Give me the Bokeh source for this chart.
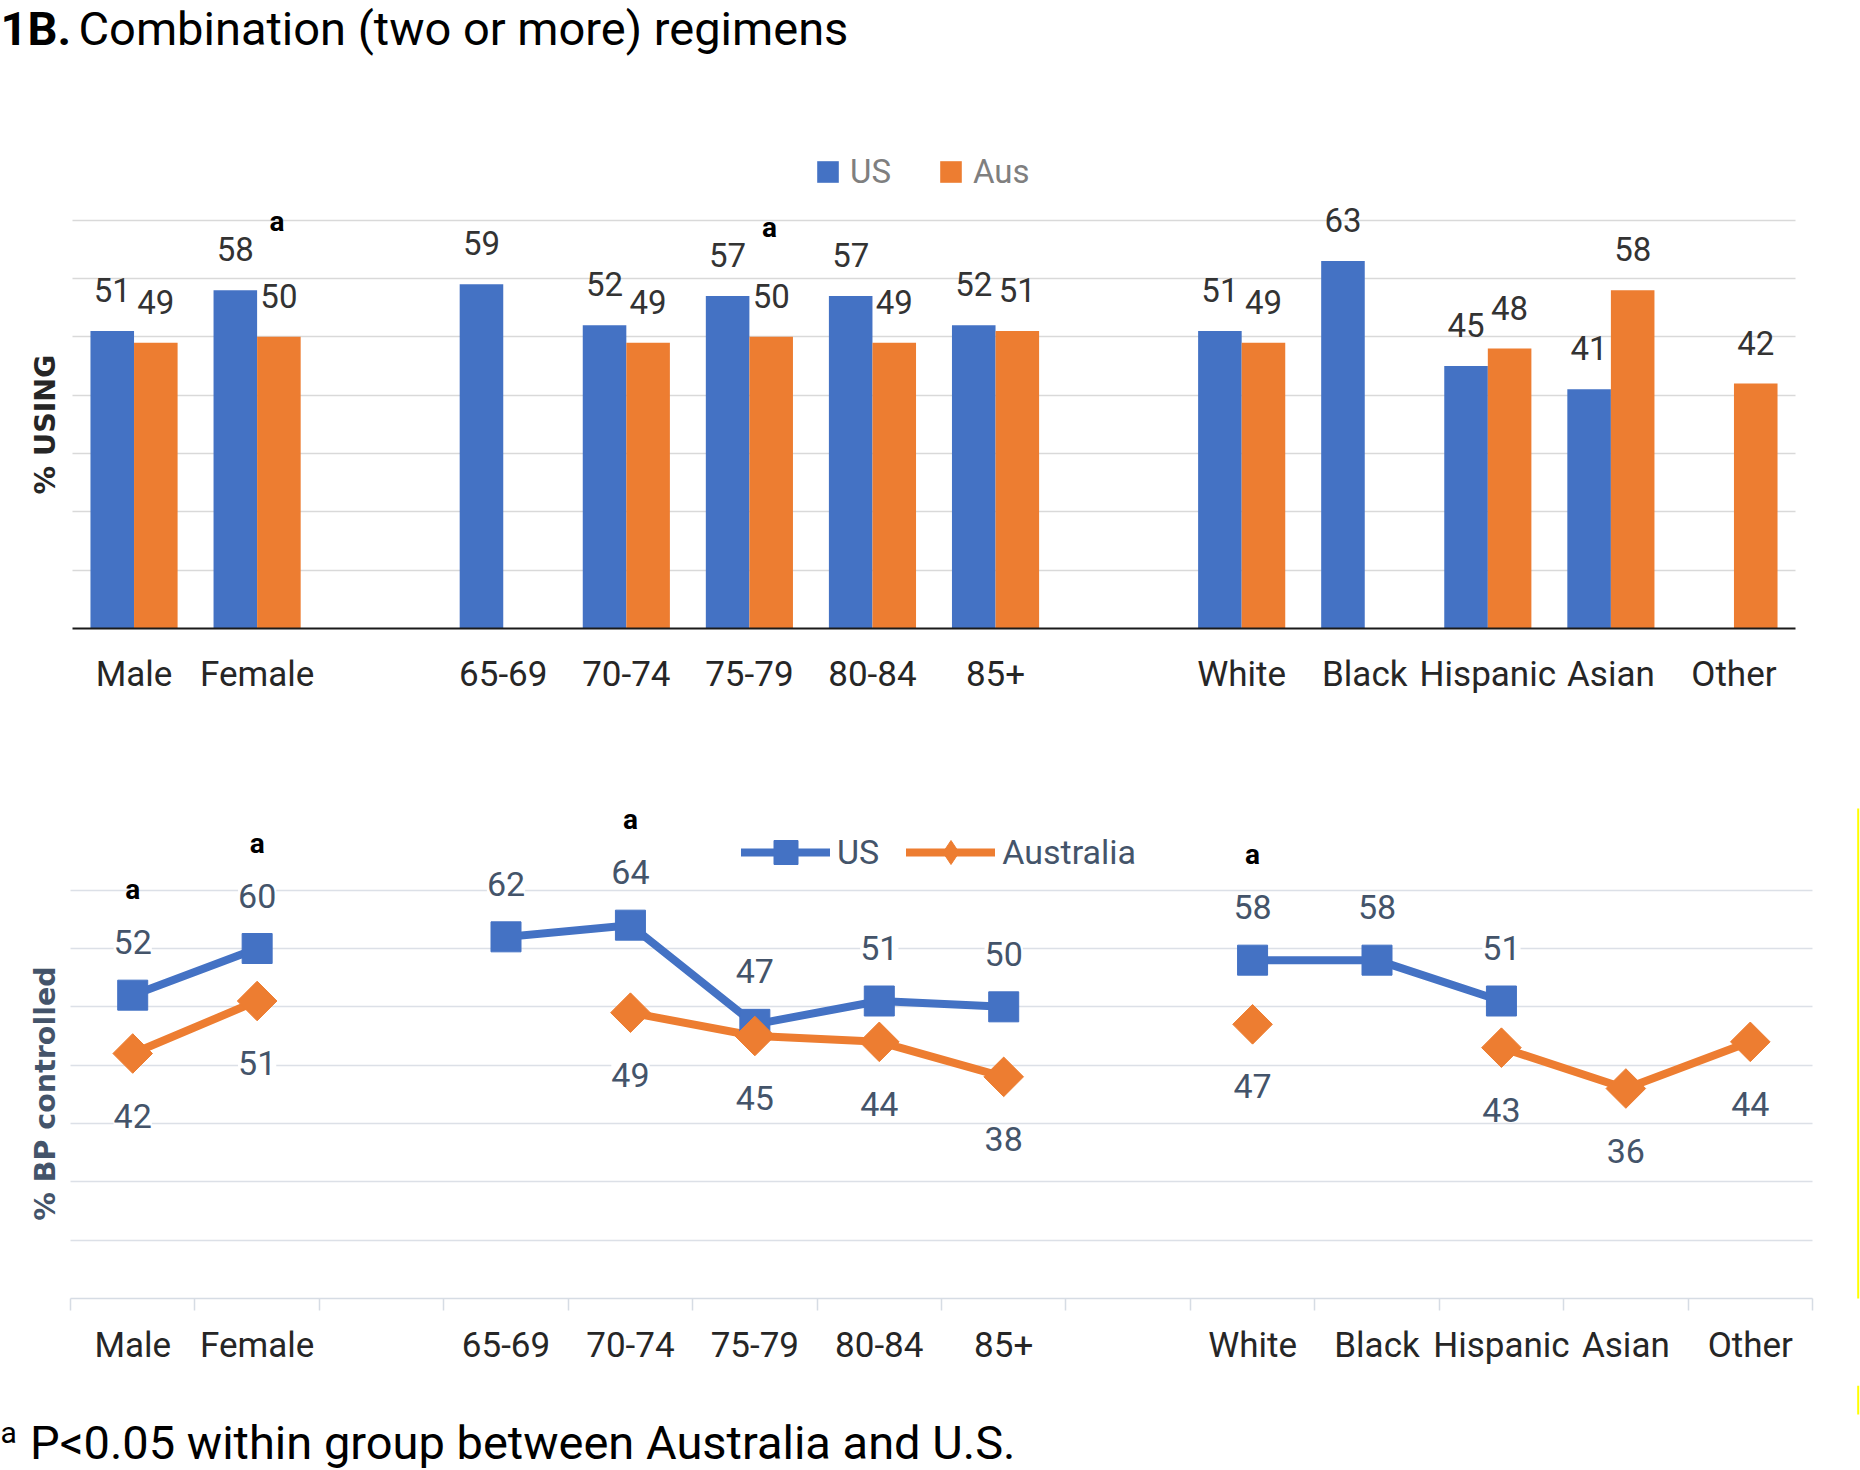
import math
from bokeh.plotting import figure
from bokeh.models import (ColumnDataSource, LabelSet, Legend, LegendItem,
                          FixedTicker, Range1d)
from bokeh.layouts import column
from bokeh.core.properties import value
from bokeh.embed import file_html
from bokeh.resources import INLINE

# ---------------- data ----------------
categories = ["Male", "Female", "", "65-69", "70-74", "75-79", "80-84", "85+", "",
              "White", "Black", "Hispanic", "Asian", "Other"]
using_us = [51, 58, None, 59, 52, 57, 57, 52, None, 51, 63, 45, 41, None]
using_aus = [49, 50, None, None, 49, 50, 49, 51, None, 49, None, 48, 58, 42]
control_us = [52, 60, None, 62, 64, 47, 51, 50, None, 58, 58, 51, None, None]
control_aus = [42, 51, None, None, 49, 45, 44, 38, None, 47, None, 43, 36, 44]
using_sig = ["Female", "75-79"]
control_sig = ["Male", "Female", "70-74", "White"]
grid_ticks = [10, 20, 30, 40, 50, 60, 70]

title_bold = "1B."
title_text = "Combination (two or more) regimens"
footnote = "P<0.05 within group between Australia and U.S."

# ---------------- style ----------------
BLUE = "#4472C4"
ORANGE = "#ED7D31"
FONT = "Roboto"
SLATE = "#44546A"
TOTAL_W = 1860
NAN = float("nan")

n = len(categories)
xc = [i + 0.5 for i in range(n)]
tick_pos = [xc[i] for i, c in enumerate(categories) if c]
tick_lab = {xc[i]: c for i, c in enumerate(categories) if c}


def pts(vals, dx=0.0):
    xs, ys, ts = [], [], []
    for i, v in enumerate(vals):
        if v is not None:
            xs.append(xc[i] + dx)
            ys.append(v)
            ts.append(str(v))
    return ColumnDataSource(dict(x=xs, y=ys, text=ts))


def blank(w, h):
    """A figure whose frame is the whole canvas, in pixel-like units (y downward)."""
    f = figure(width=w, height=h, x_range=Range1d(0, w), y_range=Range1d(h, 0),
               x_axis_location=None, y_axis_location=None, output_backend="svg",
               toolbar_location=None, min_border=0)
    f.outline_line_color = None
    f.grid.visible = False
    return f


def put_text(fig, x, y, text, **kw):
    src = ColumnDataSource(dict(x=[x], y=[y], t=[text]))
    fig.add_layout(LabelSet(x="x", y="y", text="t", source=src, **kw))


def setup_grid(p, color):
    g = p.ygrid[0]
    if "cross_bounds" in g.properties():
        g.ticker = FixedTicker(ticks=grid_ticks)
        g.grid_line_color = color
        g.grid_line_width = 1.5
        g.cross_bounds = (0, n)
    else:
        g.grid_line_color = None
        p.segment(x0=[0] * len(grid_ticks), x1=[n] * len(grid_ticks),
                  y0=grid_ticks, y1=grid_ticks, line_color=color, line_width=1.5)
    p.xgrid.grid_line_color = None


def style_xaxis(p, color, standoff):
    ax = p.xaxis[0]
    ax.bounds = (0, n)
    ax.ticker = FixedTicker(ticks=tick_pos, minor_ticks=list(range(n + 1)))
    ax.major_label_overrides = tick_lab
    ax.major_tick_line_color = None
    ax.major_tick_out = 0
    ax.major_tick_in = 0
    ax.major_label_standoff = standoff
    ax.major_label_text_font = FONT
    ax.major_label_text_font_size = "35px"
    ax.major_label_text_color = color


# =============== title ===============
title_fig = blank(TOTAL_W, 112)
put_text(title_fig, 0, 44, title_bold, text_font=value(FONT), text_font_size="47px",
         text_font_style="bold", text_color="black", text_baseline="alphabetic")
put_text(title_fig, 78, 44, title_text, text_font=value(FONT), text_font_size="47px",
         text_color="black", text_baseline="alphabetic")

# =============== top chart: % using ===============
# frames of all stacked figures span the full page width (column aligns them)
TOP_SLOT = 1723 / n            # pixels per category slot
TOP_PX = 490 / 84              # pixels per percentage point
top = figure(width=TOTAL_W, height=628,
             x_range=Range1d(-72 / TOP_SLOT, n + 65 / TOP_SLOT), y_range=Range1d(0, 84),
             y_axis_location=None, output_backend="svg", toolbar_location=None,
             min_border_left=0, min_border_right=0, min_border_top=26,
             min_border_bottom=112)
top.outline_line_color = None
setup_grid(top, "#D9D9D9")
style_xaxis(top, "#262626", 21)
top.xaxis.minor_tick_line_color = None
top.xaxis.axis_line_color = "#1a1a1a"
top.xaxis.axis_line_width = 2

DODGE = 0.177
BW = 0.354
src_us = pts(using_us, -DODGE)
src_au = pts(using_aus, DODGE)
r_us = top.vbar(x="x", top="y", width=BW, source=src_us, fill_color=BLUE, line_color=None)
r_au = top.vbar(x="x", top="y", width=BW, source=src_au, fill_color=ORANGE, line_color=None)

for s in (src_us, src_au):
    top.add_layout(LabelSet(x="x", y="y", text="text", source=s, text_align="center",
                            text_baseline="alphabetic", y_offset=29,
                            text_font=value(FONT), text_font_size="33px",
                            text_color="#333333"))

sig_x, sig_y = [], []
for c in using_sig:
    i = categories.index(c)
    sig_x.append(xc[i])
    sig_y.append(max(v for v in (using_us[i], using_aus[i]) if v is not None))
top.add_layout(LabelSet(x="x", y="y", text=value("a"),
                        source=ColumnDataSource(dict(x=sig_x, y=sig_y)),
                        text_align="center", text_baseline="alphabetic",
                        x_offset=20, y_offset=59, text_font=value(FONT),
                        text_font_size="28px", text_font_style="bold", text_color="black"))

leg1 = Legend(items=[LegendItem(label="US", renderers=[r_us]),
                     LegendItem(label="Aus", renderers=[r_au])],
              orientation="horizontal", location=(814, 437),
              glyph_width=27, glyph_height=27, label_standoff=9, spacing=46,
              padding=0, margin=0, border_line_color=None, background_fill_alpha=0,
              label_text_font=FONT, label_text_font_size="33px",
              label_text_color="#7F7F7F")
top.add_layout(leg1)

# y-axis title, placed in the frame's left margin zone
put_text(top, -27.5 / TOP_SLOT, 204 / TOP_PX, "% USING", angle=math.pi / 2,
         text_font=value("DejaVu Sans"), text_font_size="28.5px", text_font_style="bold",
         text_color="#262626", text_align="center", text_baseline="middle")

# =============== bottom chart: % BP controlled ===============
BOT_SLOT = 1742 / n
BOT_PX = 490 / 84
bot = figure(width=TOTAL_W, height=645,
             x_range=Range1d(-70 / BOT_SLOT, n + 48 / BOT_SLOT), y_range=Range1d(0, 84),
             y_axis_location=None, output_backend="svg", toolbar_location=None,
             min_border_left=0, min_border_right=0, min_border_top=68,
             min_border_bottom=87)
bot.outline_line_color = None
setup_grid(bot, "#DCE0E7")
style_xaxis(bot, "#262626", 14)
bot.xaxis.axis_line_color = "#D6DCE4"
bot.xaxis.axis_line_width = 1.5
bot.xaxis.minor_tick_line_color = "#D6DCE4"
bot.xaxis.minor_tick_line_width = 1.5
bot.xaxis.minor_tick_out = 12
bot.xaxis.minor_tick_in = 0

line_src_us = ColumnDataSource(dict(x=xc, y=[NAN if v is None else v for v in control_us]))
line_src_au = ColumnDataSource(dict(x=xc, y=[NAN if v is None else v for v in control_aus]))
pt_us = pts(control_us)
pt_au = pts(control_aus)

l_us = bot.line(x="x", y="y", source=line_src_us, line_color=BLUE, line_width=8,
                line_join="round", line_cap="round")
l_au = bot.line(x="x", y="y", source=line_src_au, line_color=ORANGE, line_width=8,
                line_join="round", line_cap="round")
m_us = bot.scatter(x="x", y="y", source=pt_us, marker="square", size=30,
                   fill_color=BLUE, line_color=BLUE)
m_au = bot.scatter(x="x", y="y", source=pt_au, marker="square", size=28,
                   angle=math.pi / 4, fill_color=ORANGE, line_color=ORANGE)
# legend key glyph: a diamond drawn only in the legend (its single point is NaN)
m_au_key = bot.scatter(x=[NAN], y=[NAN], marker="diamond", size=24,
                       fill_color=ORANGE, line_color=ORANGE)

bot.add_layout(LabelSet(x="x", y="y", text="text", source=pt_us, text_align="center",
                        text_baseline="alphabetic", y_offset=41,
                        text_font=value(FONT), text_font_size="34px", text_color=SLATE,
                        background_fill_color="white"))
bot.add_layout(LabelSet(x="x", y="y", text="text", source=pt_au, text_align="center",
                        text_baseline="alphabetic", y_offset=-74,
                        text_font=value(FONT), text_font_size="34px", text_color=SLATE,
                        background_fill_color="white"))

sx, sy = [], []
for c in control_sig:
    i = categories.index(c)
    sx.append(xc[i])
    sy.append(control_us[i])
bot.add_layout(LabelSet(x="x", y="y", text=value("a"),
                        source=ColumnDataSource(dict(x=sx, y=sy)),
                        text_align="center", text_baseline="alphabetic",
                        y_offset=96, text_font=value(FONT),
                        text_font_size="28px", text_font_style="bold", text_color="black"))

leg2 = Legend(items=[LegendItem(label="US", renderers=[l_us, m_us]),
                     LegendItem(label="Australia", renderers=[l_au, m_au_key])],
              orientation="horizontal", location=(741, 416),
              glyph_width=89, glyph_height=60, label_standoff=7, spacing=27,
              padding=0, margin=0, border_line_color=None, background_fill_alpha=0,
              label_text_font=FONT, label_text_font_size="34px",
              label_text_color=SLATE)
bot.add_layout(leg2)

put_text(bot, -25.5 / BOT_SLOT, 205 / BOT_PX, "% BP controlled", angle=math.pi / 2,
         text_font=value("DejaVu Sans"), text_font_size="28.5px", text_font_style="bold",
         text_color=SLATE, text_align="center", text_baseline="middle")

# thin yellow border line at the right edge of the original figure
edge_x = (1857.7 - 70) / BOT_SLOT
bot.segment(x0=[edge_x], x1=[edge_x], y0=[90], y1=[-20], line_color="#FFFF00", line_width=2)

# =============== footnote ===============
foot = blank(TOTAL_W, 85)
put_text(foot, 0, 57, "a", text_font=value(FONT), text_font_size="30px",
         text_color="black", text_baseline="alphabetic")
put_text(foot, 29.5, 73, footnote, text_font=value(FONT), text_font_size="47px",
         text_color="black", text_baseline="alphabetic")
foot.segment(x0=[1857.7], y0=[0], x1=[1857.7], y1=[29], line_color="#FFFF00", line_width=2)

layout = column(title_fig, top, bot, foot, spacing=0)
open("out.html", "w").write(file_html(layout, INLINE))
